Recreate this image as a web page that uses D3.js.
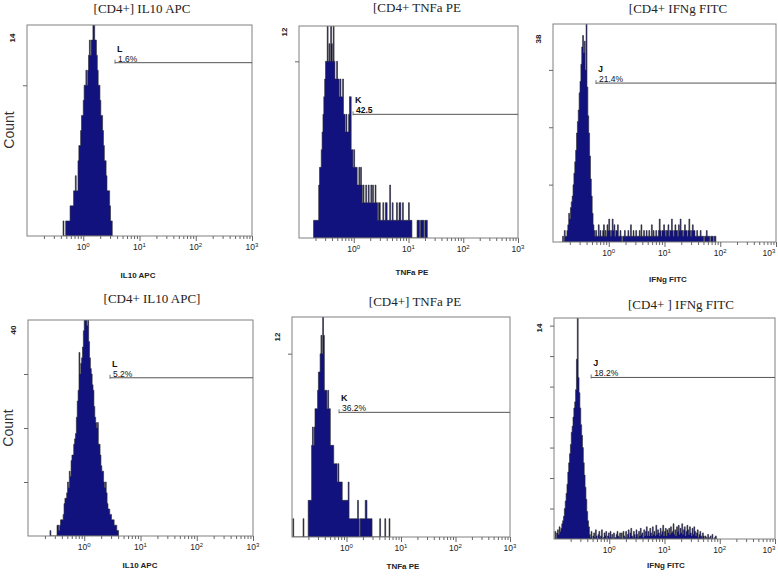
<!DOCTYPE html>
<html>
<head>
<meta charset="utf-8">
<script src="https://cdn.jsdelivr.net/npm/d3@7"></script>
<style>
  body { margin: 0; background: #fff; }
  svg { display: block; }
  .title { font-family: "Liberation Serif", "DejaVu Serif", serif; font-size: 13px; fill: #222; }
  .xlab { font-family: "Liberation Sans", Arial, sans-serif; font-size: 8px; font-weight: bold; fill: #222; }
  .ticklab { font-family: "Liberation Sans", Arial, sans-serif; font-size: 8.5px; fill: #222; }
  .ymax { font-family: "Liberation Sans", Arial, sans-serif; font-size: 8px; font-weight: bold; fill: #222; }
  .count { font-family: "Liberation Sans", Arial, sans-serif; font-size: 14px; fill: #333; }
  .gname { font-family: "Liberation Sans", Arial, sans-serif; font-size: 9px; font-weight: bold; fill: #111; }
  .gpct { font-family: "Liberation Sans", Arial, sans-serif; font-size: 8.5px; fill: #111; }
  .axis path { display: none; }
  .axis line { stroke: #666; }
</style>
</head>
<body>
<div id="chart"></div>
<script>
// Data: 6 histograms, 64 channels per decade from 10^-1 to 10^3
var titles = ["[CD4+] IL10 APC", "[CD4+ TNFa PE", "[CD4+ IFNg FITC",
              "[CD4+ IL10 APC]", "[CD4+] TNFa PE", "[CD4+ ] IFNg FITC"];
var xLabels = ["IL10 APC", "TNFa PE", "IFNg FITC", "IL10 APC", "TNFa PE", "IFNg FITC"];
var yMaxLabels = ["14", "12", "38", "40", "12", "14"];
var yDomainMax = [14, 12, 38, 40, 12, 14.5];
var yTickValues = [[10], [10], [10, 20, 30], [10, 20, 30], [10], [2, 4, 6, 8, 10, 12, 14]];
var decades = [1, 10, 100, 1000];
var decadeExp = ["0", "1", "2", "3"];

var gateNames = ["L", "K", "J", "L", "K", "J"];
var gateText = ["1.6%", "42.5", "21.4%", "5.2%", "36.2%", "18.2%"];
var gateFrom = [3.67, 0.97, 0.59, 2.87, 0.73, 0.47];
var gateLevel = [11.5, 7.0, 27.7, 29.3, 6.8, 10.6];

var firstChannel = [41, 17, 11, 25, 1, 1];

var counts1 = [1,0,0,1,1,1,1,1,2,2,2,2,3,3,4,3,3,5,6,6,7,8,8,9,10,10,11,10,11,12,13,12,13,13,14,15,
  13,13,12,11,10,10,9,8,8,7,6,5,5,4,3,3,3,2,1,1];

var counts2 = [1,1,1,1,1,1, 3,4,4,5, 6,7,8,9, 10,10,13,10,11,10,13,11,10,13,10,
  9,9,10,9,9,8,9, 8,8,9,7, 7,6,7,6,6,7,8, 8,5,5,4, 5,4,4,4, 3,3,4,3,4,3,
  2,3,2,2,3,2,2,3,2,2,3,2,3,2,2,3, 2,2,1,2,2,1,
  1,1,2,1,1,2,2,1,1,1,3,1,1,2,1,1,1,1,2,
  1,1,2,2,1,1,2,1,1,1,1,1,1,2,1,1,1,
  0,0,0,0,0,0, 1,1,1,0,1,1,1,1,0,1,1,1];

var counts3 = [1,0,2,1,1,2, 3,5,4,6, 7,8,10,12, 14,16,19,21, 23,26,28,31, 34,36,33,35, 30,45,27,
  22,19,15,11, 8,5,3,2,
  1,2,1,1,3,1,2,1,1,2,3,1,
  2,1,3,2,4,2,1,2,4,2,3,1,2,2,3,
  1,1,2,1,0,1,1,2,1,1, 1,2,1,1,3,1,1,2,1,1, 2,1,1,1,2,1,3,1,1,2, 1,1,2,1,1,2,1,1,3,1, 2,1,1,2,1,1,
  2,4,2,1,2,2,3,2,1,2, 2,3,1,2,2,4,2,1,2,3, 2,2,1,3,2,4,2,2,1,2, 3,2,2,1,2,4,2,1,2,3, 2,2,
  1,1,2,1,1,1,2,1,1,1,0,1,1,2,1,1,1,0,1,1,1,0,1,1];

var counts4 = [1, 0,0,0,0,0,0,0, 2,2,1,2, 3,3,3,4, 6,7,7,8, 10,9,12,11, 14,15,15,17, 18,19,22,25,
  27,34,30,32, 33,35,38,41, 42,40,39,40, 36,33,31,30, 28,27,24,22, 21,20,21,17,
  17,15,13,12, 12,10,9,10, 8,6,5,5, 4,4,3,3, 3,2,2,2, 1,1];

var counts5 = [1, 0,0,0,0,0,0,0,0,0,0,0, 1, 0,0,0,0,0, 2,2,2,2, 5,6,5,6, 7,7,7,8, 9,9,10,
  11,10,13,11, 8,8,8, 7,8,7,7, 5,5,5,5, 4,4,4,4, 3,4,3,3,3,3, 2,2,2,2,2,2,2,3,
  1,1,1,1,1,1,1,1,1,1,2,1, 0, 1,1,1,1,1,1,2,2,1,1, 1,1,1,1,
  0,0,0,0,0,0,0,0,0, 1, 0,0,0,0,0, 1, 0,0,0,0, 1];

var counts6 = [0.5,0,0.4,0.6,0.3,0.8,0.5,0.7, 1,1.2,1.5,2, 2.5,3,3.6,4.4, 5,5.6,6.2,7,
  7.4,8,8.6,9, 9.8,11.8,16,10.6, 9.6,8.6,7.5,6.8, 6,5,4.2,3.4, 2.6,1.8,1.2,0.8,
  0.3,0.1,0.5,0,0.2,0.4,0.1,0.6,0.2,0, 0.3,0.5,0.1,0.2,0.6,0,0.1,0.4,0.2,0.5,
  0,0.2,0.4,0.1,0.5,0.1,0.3,0,0.4,0.1, 0.1,0.3,0.5,0.2,
  0.1,0.4,0.1,0.4,0,0.5,0.2,0.1,0.5,0.1, 0.3,0.6,0.1,0.4,0.7,0.2,0.1,0.5,0.3,0.1,
  0.6,0.3,0.1,0.5,0.2,0.7,0.3,0.4,0.1,0.6, 0.2,0.5,0.8,0.2,0.5,0.2,0.7,0.4,0.2,0.8,
  0.3,0.5,0.2,0.9,0.3,0.6,0.4,0.2,0.7,0.3, 0.5,0.9,0.2,0.5,0.7,0.2,0.6,0.4,
  0.7,0.3,0.8,0.4,0.5,1.0,0.3,0.6,0.2,0.8, 0.5,0.9,0.3,0.7,0.4,1.0,0.3,0.6,0.8,0.2,
  0.5,0.9,0.6,0.3,0.8,0.4,0.2,0.7,0.3,0.8, 0.5,0.2,0.4,0.6,0.1,0.3,0.5,0.2,0.1,0.4,
  0.2,0,0.2, 0.1,0,0.3,0.1,0,0.2,0,0.3,0,0,0.1,0.2,0];

var allCounts = [counts1, counts2, counts3, counts4, counts5, counts6];

// Layout (pixel boxes and text spots for each panel)
var layout = [
  {left: 27,  right: 252, top: 25,  bottom: 236, tx: 142, ty: 13,  lx: 138, ly: 278, my: 13},
  {left: 299, right: 518, top: 26,  bottom: 238, tx: 417, ty: 12,  lx: 412, ly: 275, my: 6},
  {left: 553, right: 776, top: 24,  bottom: 242, tx: 678, ty: 13,  lx: 668, ly: 282, my: 15},
  {left: 28,  right: 253, top: 320, bottom: 536, tx: 152, ty: 303, lx: 140, ly: 568, my: 10},
  {left: 292, right: 510, top: 317, bottom: 537, tx: 415, ty: 306, lx: 403, ly: 569, my: 20},
  {left: 554, right: 775, top: 318, bottom: 539, tx: 681, ty: 309, lx: 666, ly: 568, my: 10}
];

var chPerDecade = 64, logMin = -1, pageWidth = 778;
function chValue(c) { return Math.pow(10, logMin + c / chPerDecade); }

var minorTicks = [];
for (var k = -1; k < 3; k++) {
  for (var m = 2; m < 10; m++) minorTicks.push(m * Math.pow(10, k));
}

var svg = d3.select("#chart").append("svg")
  .attr("width", pageWidth)
  .attr("height", 582);

// "Count" labels, one per row
[130, 428].forEach(function(cy, i) {
  svg.append("text")
    .attr("class", "count")
    .attr("transform", "translate(" + (i == 0 ? 14 : 13) + "," + cy + ") rotate(-90)")
    .attr("text-anchor", "middle")
    .text("Count");
});

layout.forEach(function(L, i) {
  var x = d3.scaleLog().domain([0.1, 1000]).range([L.left, L.right]),
      y = d3.scaleLinear().domain([0, yDomainMax[i]]).range([L.bottom, L.top]);

  var g = svg.append("g");

  g.append("text")
    .attr("class", "title")
    .attr("x", L.tx).attr("y", L.ty)
    .attr("text-anchor", "middle")
    .text(titles[i]);

  g.append("clipPath").attr("id", "clip" + i)
    .append("rect")
    .attr("x", L.left).attr("y", L.top)
    .attr("width", L.right - L.left).attr("height", L.bottom - L.top);

  // histogram
  var counts = allCounts[i], start = firstChannel[i];
  var pts = counts.map(function(v, j) { return {c: start + j, v: v}; });
  pts.push({c: start + counts.length, v: 0});

  var area = d3.area()
    .x(function(d) { return x(chValue(d.c)); })
    .y0(y(0))
    .y1(function(d) { return y(d.v); })
    .curve(d3.curveStepAfter);

  g.append("path")
    .datum(pts)
    .attr("clip-path", "url(#clip" + i + ")")
    .attr("d", area)
    .attr("fill", "#12127e")
    .attr("stroke", "#2a2a2a")
    .attr("stroke-width", 0.6);

  // frame
  g.append("rect")
    .attr("x", L.left).attr("y", L.top)
    .attr("width", L.right - L.left).attr("height", L.bottom - L.top)
    .attr("fill", "none")
    .attr("stroke", "#808080")
    .attr("stroke-width", 1);

  // y ticks
  g.append("g")
    .attr("class", "axis")
    .attr("transform", "translate(" + L.left + ",0)")
    .call(d3.axisLeft(y).tickValues(yTickValues[i]).tickSize(4).tickFormat(""));

  g.append("text")
    .attr("class", "ymax")
    .attr("transform", "translate(" + (L.left - 12) + "," + (L.top + L.my) + ") rotate(-90)")
    .attr("text-anchor", "middle")
    .text(yMaxLabels[i]);

  // x ticks
  g.append("g")
    .attr("class", "axis")
    .attr("transform", "translate(0," + L.bottom + ")")
    .call(d3.axisBottom(x).tickValues(minorTicks).tickSize(3).tickFormat(""));
  g.append("g")
    .attr("class", "axis")
    .attr("transform", "translate(0," + L.bottom + ")")
    .call(d3.axisBottom(x).tickValues(decades).tickSize(5).tickFormat(""));

  var tl = g.selectAll(".ticklab")
    .data(decades)
    .enter().append("text")
      .attr("class", "ticklab")
      .attr("x", function(d) { return Math.min(x(d), pageWidth - 9); })
      .attr("y", L.bottom + 14)
      .attr("text-anchor", "middle");
  tl.append("tspan").text("10");
  tl.append("tspan")
    .attr("dy", -3.5)
    .attr("font-size", "6px")
    .text(function(d, j) { return decadeExp[j]; });

  g.append("text")
    .attr("class", "xlab")
    .attr("x", L.lx).attr("y", L.ly)
    .attr("text-anchor", "middle")
    .text(xLabels[i]);

  // gate marker
  var gx = x(gateFrom[i]), gy = y(gateLevel[i]);
  g.append("line")
    .attr("x1", gx).attr("x2", L.right)
    .attr("y1", gy).attr("y2", gy)
    .attr("stroke", "#555").attr("stroke-width", 1);
  g.append("line")
    .attr("x1", gx).attr("x2", gx)
    .attr("y1", gy - 3).attr("y2", gy + 1)
    .attr("stroke", "#555").attr("stroke-width", 0.8);
  g.append("text")
    .attr("class", "gname")
    .attr("x", gx + 2).attr("y", gy - 11)
    .text(gateNames[i]);
  g.append("text")
    .attr("class", "gpct")
    .attr("x", gx + 3).attr("y", gy - 1)
    .attr("font-weight", i == 1 ? "bold" : null)
    .text(gateText[i]);
});
</script>
</body>
</html>
